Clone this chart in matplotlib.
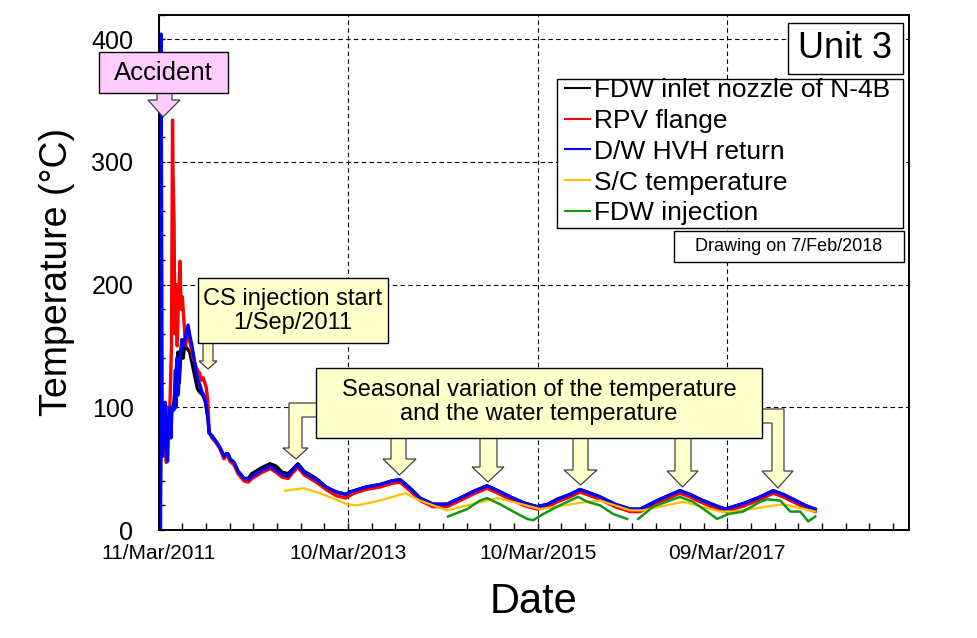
import matplotlib
matplotlib.use("Agg")
import matplotlib.pyplot as plt
from matplotlib.patches import Polygon, Rectangle
from matplotlib.ticker import MultipleLocator
import numpy as np

plt.rcParams["font.family"] = ["Liberation Sans", "DejaVu Sans"]

# x values are days since 11/Mar/2011
tick_days = [0, 730, 1460, 2190]
tick_labels = ["11/Mar/2011", "10/Mar/2013", "10/Mar/2015", "09/Mar/2017"]

# early (accident) period, each series read separately
black_days_early = [6, 9, 12, 15, 20, 25, 30, 35, 40, 45, 50, 55, 60, 65, 70, 75, 80, 85, 90, 95,
                    100, 110, 120, 130, 140, 150, 160, 170, 180, 190, 195]
black_early = [0, 60, 100, 85, 100, 80, 95, 100, 90, 100, 95, 100, 105, 120, 135, 145, 120, 140, 155, 140,
               150, 148, 145, 135, 125, 115, 112, 110, 105, 92, 79]

red_days_early = [0, 3, 6, 10, 15, 20, 25, 30, 35, 40, 45, 50, 54, 56, 60, 63, 67, 72, 77, 83,
                  87, 92, 98, 104, 110, 118, 125, 133, 141, 150, 158, 165, 172, 178, 184, 190, 195]
red_early = [228, 120, 60, 80, 100, 65, 90, 55, 100, 80, 110, 150, 334, 290, 250, 160, 200, 150, 190, 219,
             180, 190, 170, 150, 160, 155, 150, 140, 135, 130, 128, 122, 124, 120, 116, 105, 80]

blue_days_early = [8, 10, 12, 14, 16, 18, 22, 26, 30, 35, 40, 45, 48, 52, 60, 65, 68, 72, 76, 83,
                   91, 98, 106, 114, 121, 129, 137, 144, 152, 160, 168, 175, 183, 191, 195]
blue_early = [0, 404, 250, 100, 60, 95, 80, 104, 70, 56, 90, 100, 75, 100, 98, 130, 100, 140, 110, 140,
              155, 150, 160, 167, 158, 150, 140, 130, 122, 118, 112, 110, 102, 90, 79]

# later period, common read positions
days_late = [206, 222, 237, 252, 260, 268, 275, 291, 306, 329, 345, 360, 376, 399, 430, 453, 476, 499, 514, 537,
             560, 584, 614, 645, 684, 722, 737, 753, 799, 853, 899, 930, 969, 1007, 1057, 1111, 1161, 1219, 1265, 1307,
             1354, 1408, 1458, 1500, 1535, 1585, 1623, 1662, 1700, 1758, 1816, 1855, 1931, 2008, 2047, 2085, 2131, 2182, 2213, 2259,
             2317, 2367, 2405, 2444, 2490, 2529]
black_late = [77, 72, 67, 60, 62, 62, 58, 55, 48, 42, 42, 46, 48, 51, 54, 52, 47, 46, 49, 54,
              48, 45, 41, 35, 31, 29, 31, 32, 35, 37, 40, 41, 34, 26, 21, 21, 26, 32, 36, 32,
              27, 22, 19, 21, 25, 29, 33, 30, 27, 21, 17, 17, 25, 32, 29, 25, 21, 17, 19, 22,
              27, 32, 29, 25, 20, 17]
red_late = [75, 71, 66, 58, 60, 60, 56, 53, 46, 40, 39, 42, 44, 47, 50, 47, 43, 42, 46, 51,
            45, 42, 38, 33, 28, 26, 28, 30, 33, 35, 38, 39, 32, 24, 19, 19, 24, 30, 34, 30,
            25, 20, 17, 19, 23, 27, 31, 28, 25, 19, 15, 15, 23, 30, 27, 23, 19, 15, 17, 20,
            25, 30, 27, 23, 18, 15]
blue_late = [76, 72, 67, 60, 62, 62, 58, 55, 48, 42, 41, 44, 46, 49, 52, 49, 45, 44, 48, 53,
             47, 44, 40, 35, 31, 29, 31, 32, 35, 37, 40, 41, 34, 26, 21, 21, 26, 32, 36, 32,
             27, 22, 19, 21, 25, 29, 33, 30, 27, 21, 17, 17, 25, 32, 29, 25, 21, 17, 19, 22,
             27, 32, 29, 25, 20, 17]

sc_days = [487, 557, 622, 726, 765, 853, 950, 1007, 1111, 1188, 1304, 1381, 1470, 1651, 1701,
           1816, 1866, 2020, 2163, 2213, 2406, 2529]
sc_temp = [32, 34, 30, 21, 20, 24, 30, 24, 16, 20, 26, 22, 17, 23, 24,
           16, 16, 23, 15, 15, 21, 15]

fdw_days_a = [1115, 1188, 1238, 1265, 1315, 1366, 1420, 1443, 1481, 1535, 1585, 1616, 1651, 1701, 1751, 1805]
fdw_a = [11, 17, 24, 26, 21, 15, 9, 8, 13, 19, 24, 27, 23, 20, 13, 9]
fdw_days_b = [1847, 1905, 1982, 2008, 2058, 2113, 2151, 2194, 2251, 2317, 2344, 2394, 2433, 2471, 2502, 2529]
fdw_b = [9, 19, 25, 27, 23, 15, 9, 13, 15, 23, 25, 24, 15, 15, 7, 11]

labels = ["FDW inlet nozzle of N-4B", "RPV flange", "D/W HVH return", "S/C temperature", "FDW injection"]

W, H = 977, 638
fig = plt.figure(figsize=(W / 100, H / 100), dpi=100)
ax = fig.add_axes([158.5 / W, 108 / H, (909 - 158.5) / W, (530 - 14.5) / H])

l1, = ax.plot(black_days_early + days_late, black_early + black_late, color="black", lw=2.4)
l2, = ax.plot(red_days_early + days_late, red_early + red_late, color="#ff0000", lw=2.4)
l3, = ax.plot(blue_days_early + days_late, blue_early + blue_late, color="#0000ff", lw=2.4)
l4, = ax.plot(sc_days, sc_temp, color="#ffc000", lw=1.6)
l5, = ax.plot(fdw_days_a + [np.nan] + fdw_days_b, fdw_a + [np.nan] + fdw_b, color="#109910", lw=1.8)

ax.set_xlim(0, 2890)
ax.set_ylim(0, 420)
ax.set_xticks(tick_days)
ax.set_xticklabels(tick_labels)
ax.set_yticks([0, 100, 200, 300, 400])
ax.xaxis.set_minor_locator(MultipleLocator(91.25))
ax.yaxis.set_minor_locator(MultipleLocator(20))
ax.tick_params(axis="x", which="both", direction="in", length=5, width=1, labelsize=15, pad=10)
ax.tick_params(axis="y", which="both", direction="in", length=4, width=1, labelsize=18, pad=18)
ax.grid(True, which="major", color="black", linestyle=(0, (4, 3)), linewidth=0.8)
for s in ax.spines.values():
    s.set_linewidth(1.4)

ax.set_xlabel("Date", fontsize=30, labelpad=14)
ax.set_ylabel("Temperature (°C)", fontsize=27, labelpad=12)

# overlay in pixel units for the call-out boxes and the legend
ov = fig.add_axes([0, 0, 1, 1])
ov.set_xlim(0, W)
ov.set_ylim(H, 0)
ov.axis("off")
ov.patch.set_alpha(0)

def box(x0, y0, x1, y1, fc, ec="black", lw=1):
    ov.add_patch(Rectangle((x0, y0), x1 - x0, y1 - y0, facecolor=fc, edgecolor=ec, lw=lw, zorder=3))

def arrow(pts, fc):
    ov.add_patch(Polygon(pts, closed=True, facecolor=fc, edgecolor="#404040", lw=0.9, zorder=2))

box(557, 79, 903, 228, "white")
leg = ov.legend([l1, l2, l3, l4, l5], labels, loc="upper left",
                bbox_to_anchor=(565 / W, 1 - 78 / H), bbox_transform=fig.transFigure,
                fontsize=19, frameon=False, handlelength=0.95, handletextpad=0.15,
                labelspacing=0.26, borderpad=0, borderaxespad=0)
leg.set_zorder(5)
for h in leg.legend_handles:
    h.set_linewidth(1.5)

pink = "#ffccff"
yel = "#ffffcc"

# Unit 3 / drawing date
box(788, 23, 903, 74, "white")
ov.text(845.5, 49, "Unit 3", fontsize=26, ha="center", va="center", zorder=4)
box(674, 231, 904, 262, "white")
ov.text(789, 246.5, "Drawing on 7/Feb/2018", fontsize=13, ha="center", va="center", zorder=4)

# Accident
arrow([(157, 92), (157, 100), (148, 100), (163, 117), (180, 100), (172, 100), (172, 92)], pink)
box(99, 52, 228, 93, pink)
ov.text(163.5, 72.5, "Accident", fontsize=18.5, ha="center", va="center", zorder=4)

# CS injection start
arrow([(203, 342), (203, 361), (199, 361), (208, 369), (217, 361), (213, 361), (213, 342)], yel)
box(198, 278, 388, 343, yel)
ov.text(293, 311, "CS injection start\n1/Sep/2011", fontsize=17, ha="center", va="center",
        linespacing=1.15, zorder=4)

# seasonal variation
arrow([(317, 403), (289, 403), (289, 448), (283, 448), (296, 459), (308, 448), (302, 448), (302, 417), (317, 417)], yel)
arrow([(761, 409), (784, 409), (784, 471), (793, 471), (778, 488), (762, 471), (772, 471), (772, 423), (761, 423)], yel)
for x0, x1, hx0, hx1, ht, tip in [(391, 406, 383, 416, 459, 475),
                                  (480, 497, 472, 504, 467, 482),
                                  (573, 588, 564, 597, 470, 485),
                                  (675, 691, 667, 698, 471, 487)]:
    cx = (hx0 + hx1) / 2
    arrow([(x0, 437), (x0, ht), (hx0, ht), (cx, tip), (hx1, ht), (x1, ht), (x1, 437)], yel)
box(316, 368, 762, 438, yel)
ov.text(539, 402, "Seasonal variation of the temperature\nand the water temperature", fontsize=17,
        ha="center", va="center", linespacing=1.15, zorder=4)

fig.savefig("out.png", dpi=100)
